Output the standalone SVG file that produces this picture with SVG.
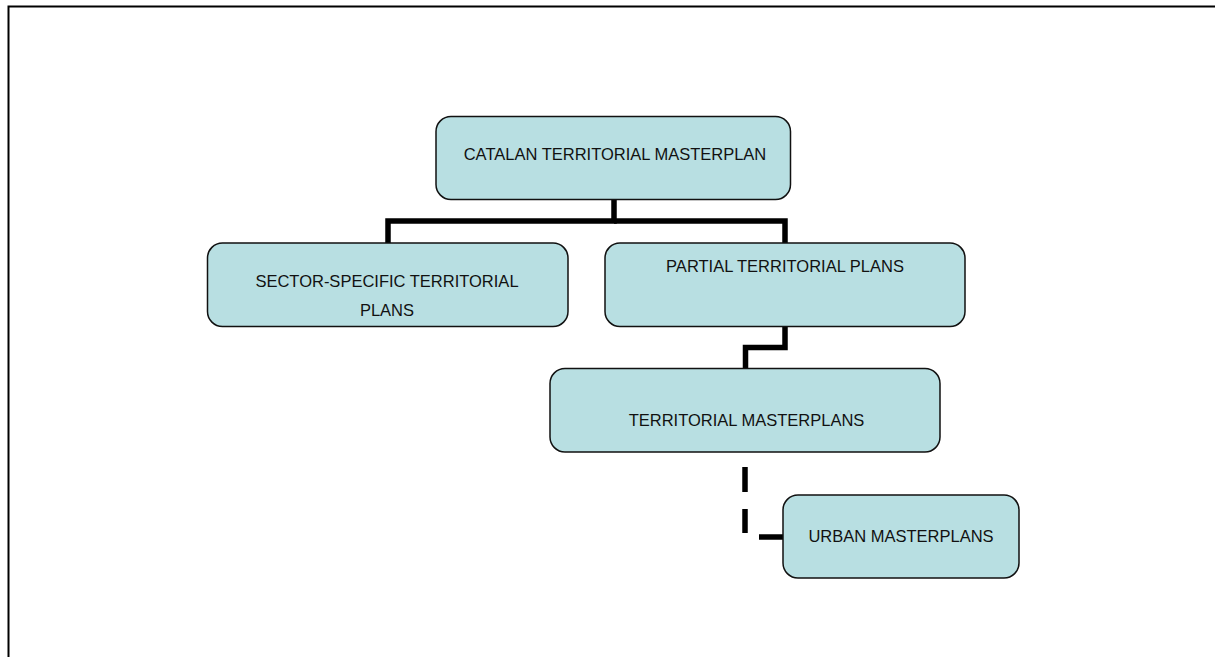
<svg xmlns="http://www.w3.org/2000/svg" width="1215" height="657" viewBox="0 0 1215 657">
<style>
.box{fill:#b8dfe2;stroke:#111;stroke-width:1.5}
.t{font-family:"Liberation Sans",Arial,sans-serif;font-size:16.5px;fill:#111;text-anchor:middle}
.c{fill:none;stroke:#000;stroke-width:5.5}
</style>
<rect width="1215" height="657" fill="#fff"/>
<path d="M8.5,657 V6.5 H1215" fill="none" stroke="#000" stroke-width="2"/>
<g id="connectors">
<path class="c" d="M614,199 V221 H388 V243"/>
<path class="c" d="M614,221 H785 V243"/>
<path class="c" d="M785,327 V347.5 H745.5 V369"/>
<path class="c" d="M745,467 V492 M745,509 V533"/>
<path class="c" d="M759,537 H783"/>
</g>
<g id="n1"><rect class="box" x="436" y="116.5" width="354.5" height="83" rx="15"/><text class="t" x="615" y="160">CATALAN TERRITORIAL MASTERPLAN</text></g>
<g id="n2"><rect class="box" x="207.5" y="243" width="360.5" height="83.5" rx="15"/><text class="t" x="387" y="287">SECTOR-SPECIFIC TERRITORIAL</text><text class="t" x="387" y="316">PLANS</text></g>
<g id="n3"><rect class="box" x="605" y="243" width="360" height="83.5" rx="15"/><text class="t" x="785" y="272">PARTIAL TERRITORIAL PLANS</text></g>
<g id="n4"><rect class="box" x="550" y="368.5" width="390" height="83.5" rx="15"/><text class="t" x="746.5" y="426">TERRITORIAL MASTERPLANS</text></g>
<g id="n5"><rect class="box" x="783" y="495" width="236" height="83" rx="15"/><text class="t" x="901" y="542">URBAN MASTERPLANS</text></g>
</svg>
